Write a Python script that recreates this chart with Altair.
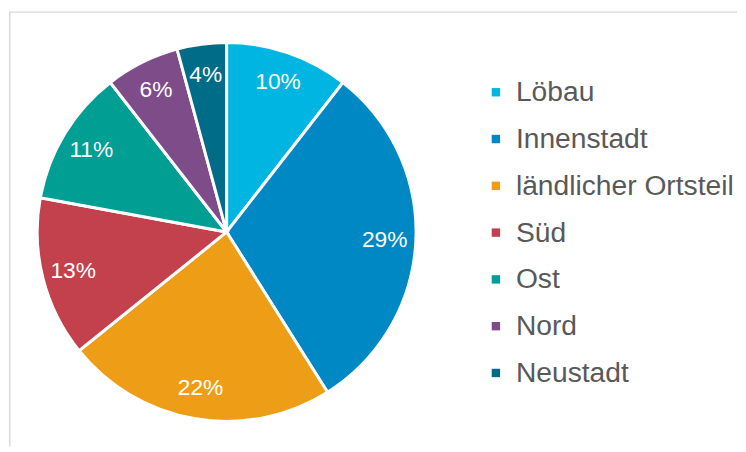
import altair as alt
import pandas as pd

categories = ["Löbau", "Innenstadt", "ländlicher Ortsteil", "Süd", "Ost", "Nord", "Neustadt"]
values = [10, 29, 22, 13, 11, 6, 4]
labels = ["10%", "29%", "22%", "13%", "11%", "6%", "4%"]
colors = ["#00b5e2", "#0088c5", "#ee9e16", "#c2414c", "#009e93", "#7f4c8a", "#006c87"]

df = pd.DataFrame({
    "Bereich": categories,
    "Wert": values,
    "Label": labels,
    "idx": list(range(len(categories))),
})

W, H = 736, 440
FONT = "Liberation Sans"

base = alt.Chart(df)

arcs = base.mark_arc(outerRadius=191.5, stroke="white", strokeWidth=3).encode(
    theta=alt.Theta("Wert:Q", stack=True),
    color=alt.Color(
        "Bereich:N",
        scale=alt.Scale(domain=categories, range=colors),
        sort=categories,
        legend=alt.Legend(
            title=None,
            orient="none",
            legendX=478,
            legendY=67.5,
            symbolType="square",
            symbolSize=72,
            symbolStrokeWidth=0,
            labelFont=FONT,
            labelFontSize=28.5,
            labelColor="#595959",
            labelOffset=6,
            rowPadding=18.3,
            padding=0,
            labelLimit=400,
        ),
    ),
    order=alt.Order("idx:Q"),
    x=alt.value(220),
    y=alt.value(223),
)

texts = base.mark_text(
    font=FONT, fontSize=23, color="white", align="center", baseline="middle"
).encode(
    theta=alt.Theta("Wert:Q", stack=True),
    radius=alt.value(160),
    text="Label:N",
    order=alt.Order("idx:Q"),
    x=alt.value(220),
    y=alt.value(223),
)

frame = pd.DataFrame({"a": [0]})
left_rule = alt.Chart(frame).mark_rule(color="#d9d9d9", strokeWidth=1.5).encode(
    x=alt.value(0.75), y=alt.value(0), y2=alt.value(H)
)
top_rule = alt.Chart(frame).mark_rule(color="#d9d9d9", strokeWidth=1.5).encode(
    x=alt.value(0), x2=alt.value(W), y=alt.value(0.75)
)

chart = alt.layer(left_rule, top_rule, arcs, texts).properties(
    width=W, height=H, padding=0
).configure_view(stroke=None)

chart.save("out.html", embed_options={"renderer": "svg", "actions": False})
